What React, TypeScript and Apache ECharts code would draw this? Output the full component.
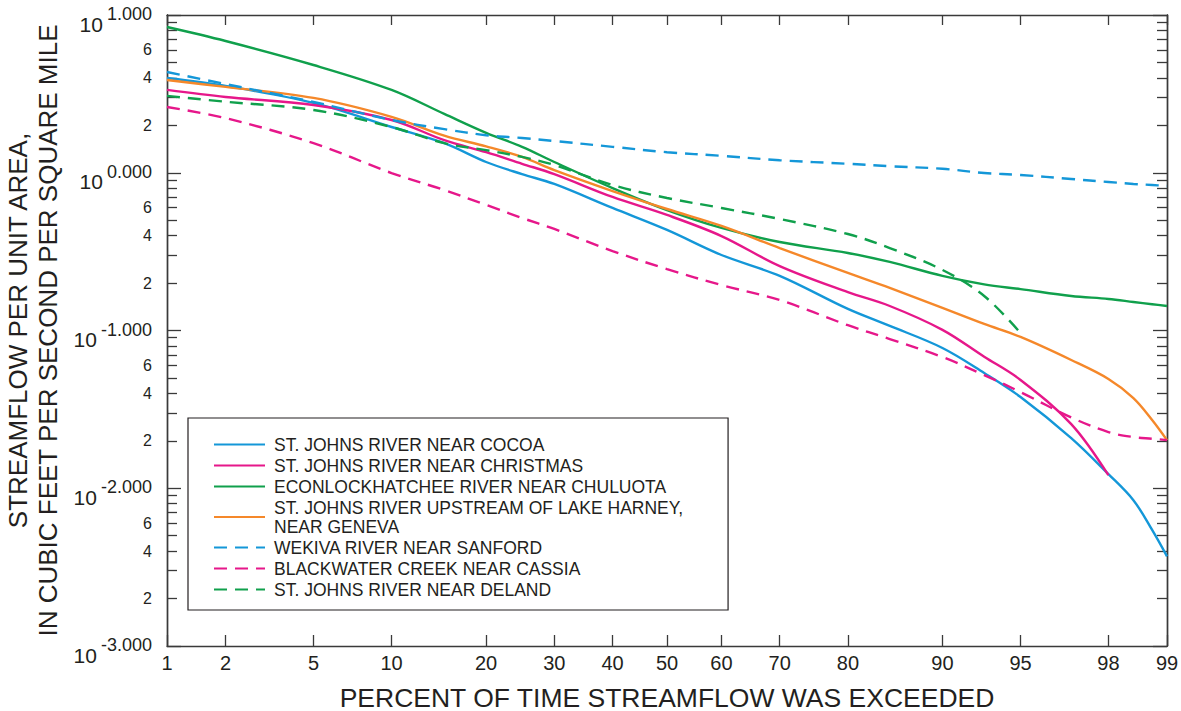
import { useEffect, useRef } from 'react';
import * as echarts from 'echarts';

// Percent of time the streamflow was exceeded (probability scale positions)
const EXCEEDANCE = [1, 2, 5, 10, 15, 20, 25, 30, 40, 50, 60, 70, 80, 85, 90, 93, 95, 97, 98, 98.5, 98.8, 99];

// Streamflow per unit area, cubic feet per second per square mile
const COCOA = [3.99, 3.55, 2.77, 1.95, 1.54, 1.17, 0.98, 0.849, 0.598, 0.434, 0.301, 0.222, 0.137, 0.107, 0.0775, 0.0538, 0.0379, 0.0208, 0.0123, 0.0084, 0.00544, 0.0037];
const CHRISTMAS = [3.35, 3.02, 2.69, 2.16, 1.61, 1.35, 1.14, 0.98, 0.702, 0.54, 0.397, 0.256, 0.175, 0.143, 0.101, 0.0682, 0.0486, 0.0255, 0.0121, null, null, null];
const CHULUOTA = [8.39, 6.84, 4.82, 3.35, 2.36, 1.79, 1.46, 1.17, 0.8, 0.58, 0.447, 0.364, 0.31, 0.272, 0.222, 0.196, 0.183, 0.1655, 0.1585, 0.1517, 0.1468, 0.143];
const GENEVA = [3.87, 3.5, 2.98, 2.26, 1.72, 1.47, 1.26, 1.04, 0.766, 0.589, 0.46, 0.333, 0.2315, 0.186, 0.139, 0.11, 0.091, 0.065, 0.0493, 0.0373, 0.0271, 0.0202];
const SANFORD = [4.35, 3.65, 2.81, 2.16, 1.89, 1.73, 1.66, 1.59, 1.46, 1.35, 1.28, 1.2, 1.14, 1.1, 1.06, 0.996, 0.968, 0.913, 0.874, 0.849, 0.837, 0.824];
const CASSIA = [2.61, 2.22, 1.54, 0.996, 0.777, 0.625, 0.517, 0.44, 0.319, 0.245, 0.194, 0.156, 0.108, 0.0883, 0.0679, 0.0522, 0.0407, 0.0281, 0.0227, 0.0211, 0.0206, 0.0202];
const DELAND = [3.07, 2.82, 2.5, 1.95, 1.54, 1.39, 1.26, 1.12, 0.836, 0.692, 0.598, 0.509, 0.409, 0.333, 0.242, 0.1655, 0.0964, null, null, null, null, null];

const SERIES_NAMES = [
  'ST. JOHNS RIVER NEAR COCOA',
  'ST. JOHNS RIVER NEAR CHRISTMAS',
  'ECONLOCKHATCHEE RIVER NEAR CHULUOTA',
  'ST. JOHNS RIVER UPSTREAM OF LAKE HARNEY,\nNEAR GENEVA',
  'WEKIVA RIVER NEAR SANFORD',
  'BLACKWATER CREEK NEAR CASSIA',
  'ST. JOHNS RIVER NEAR DELAND',
];

// Tick labels
const X_TICKS = [1, 2, 5, 10, 20, 30, 40, 50, 60, 70, 80, 90, 95, 98, 99];
const Y_DECADES = [-3, -2, -1, 0, 1];
const Y_LABELED_MANTISSAS = [2, 4, 6];

const FONT = '"Liberation Sans", Arial, Helvetica, sans-serif';
const INK = '#231f20';
const AXIS = '#3a3a3a';
const BLUE = '#1497d8';
const MAGENTA = '#e6178a';
const GREEN = '#10a04c';
const ORANGE = '#f5882a';
const DASH = [13, 8];

// Inverse of the standard normal CDF (Acklam's rational approximation)
function probit(p: number): number {
  const a = [-39.69683028665376, 220.9460984245205, -275.9285104469687, 138.357751867269, -30.66479806614716, 2.506628277459239];
  const b = [-54.47609879822406, 161.5858368580409, -155.6989798598866, 66.80131188771972, -13.28068155288572];
  const c = [-0.007784894002430293, -0.3223964580411365, -2.400758277161838, -2.549732539343734, 4.374664141464968, 2.938163982698783];
  const d = [0.007784695709041462, 0.3224671290700398, 2.445134137142996, 3.754408661907416];
  const pl = 0.02425;
  if (p < pl) {
    const q = Math.sqrt(-2 * Math.log(p));
    return (((((c[0] * q + c[1]) * q + c[2]) * q + c[3]) * q + c[4]) * q + c[5]) /
      ((((d[0] * q + d[1]) * q + d[2]) * q + d[3]) * q + 1);
  }
  if (p > 1 - pl) {
    const q = Math.sqrt(-2 * Math.log(1 - p));
    return -(((((c[0] * q + c[1]) * q + c[2]) * q + c[3]) * q + c[4]) * q + c[5]) /
      ((((d[0] * q + d[1]) * q + d[2]) * q + d[3]) * q + 1);
  }
  const q = p - 0.5;
  const r = q * q;
  return (((((a[0] * r + a[1]) * r + a[2]) * r + a[3]) * r + a[4]) * r + a[5]) * q /
    (((((b[0] * r + b[1]) * r + b[2]) * r + b[3]) * r + b[4]) * r + 1);
}

const X_MIN = probit(0.01);
const X_MAX = probit(0.99);
const X_TICK_POS = X_TICKS.map((p) => probit(p / 100));

const Y_MAJOR = Y_DECADES;
const Y_MINOR: number[] = [];
Y_DECADES.slice(0, -1).forEach((k) => {
  for (let m = 2; m <= 9; m++) Y_MINOR.push(k + Math.log10(m));
});
const Y_LABELS: number[] = [...Y_MAJOR];
Y_DECADES.slice(0, -1).forEach((k) => {
  Y_LABELED_MANTISSAS.forEach((m) => Y_LABELS.push(k + Math.log10(m)));
});

function toPoints(values: (number | null)[]) {
  return EXCEEDANCE.map((p, i) => {
    const v = values[i];
    return [probit(p / 100), v == null ? null : Math.log10(v)];
  }).filter((pt) => pt[1] !== null);
}

function xLabel(v: number): string {
  let best = 0;
  let dist = Infinity;
  X_TICK_POS.forEach((z, i) => {
    const dd = Math.abs(z - v);
    if (dd < dist) {
      dist = dd;
      best = i;
    }
  });
  return String(X_TICKS[best]);
}

function yLabel(v: number): string {
  const k = Math.round(v);
  if (Math.abs(v - k) < 1e-6) return `{b|10}{e|${k.toFixed(3)}}`;
  const m = Math.round(Math.pow(10, v - Math.floor(v)));
  return String(m);
}

const xAxisBase = {
  type: 'value' as const,
  min: X_MIN,
  max: X_MAX,
  splitLine: { show: false },
  axisLine: { show: true, onZero: false, lineStyle: { color: AXIS, width: 1.4 } },
};

const yAxisBase = {
  type: 'value' as const,
  min: -3,
  max: 1,
  splitLine: { show: false },
  axisLine: { show: true, onZero: false, lineStyle: { color: AXIS, width: 1.4 } },
};

export default function App() {
  const ref = useRef<HTMLDivElement>(null);

  useEffect(() => {
    document.body.style.margin = '0';
    if (!ref.current) return;
    const chart = echarts.init(ref.current, null, { renderer: 'svg' });

    const seriesDefs = [
      { values: COCOA, color: BLUE, dashed: false },
      { values: CHRISTMAS, color: MAGENTA, dashed: false },
      { values: CHULUOTA, color: GREEN, dashed: false },
      { values: GENEVA, color: ORANGE, dashed: false },
      { values: SANFORD, color: BLUE, dashed: true },
      { values: CASSIA, color: MAGENTA, dashed: true },
      { values: DELAND, color: GREEN, dashed: true },
    ];

    chart.setOption({
      animation: false,
      backgroundColor: '#ffffff',
      textStyle: { fontFamily: FONT, color: INK },
      grid: { left: 167, right: 14, top: 15, bottom: 65, containLabel: false, outerBoundsMode: 'none' },
      xAxis: [
        {
          ...xAxisBase,
          position: 'bottom',
          name: 'PERCENT OF TIME STREAMFLOW WAS EXCEEDED',
          nameLocation: 'middle',
          nameGap: 38,
          nameTextStyle: { fontSize: 26.5, color: INK, fontFamily: FONT },
          axisTick: { show: true, inside: true, length: 11, customValues: X_TICK_POS, lineStyle: { color: AXIS, width: 1.3 } },
          axisLabel: {
            show: true,
            customValues: X_TICK_POS,
            formatter: xLabel,
            fontSize: 20,
            color: INK,
            fontFamily: FONT,
            margin: 7,
          },
        },
        {
          ...xAxisBase,
          position: 'top',
          axisTick: { show: true, inside: true, length: 10, customValues: X_TICK_POS, lineStyle: { color: AXIS, width: 1.3 } },
          axisLabel: { show: false },
        },
      ],
      yAxis: [
        {
          ...yAxisBase,
          position: 'left',
          name: 'STREAMFLOW PER UNIT AREA,\nIN CUBIC FEET PER SECOND PER SQUARE MILE',
          nameLocation: 'middle',
          nameRotate: 90,
          nameGap: 98,
          nameTextStyle: { fontSize: 26, lineHeight: 30, color: INK, fontFamily: FONT },
          axisTick: { show: true, inside: true, length: 14, customValues: Y_MAJOR, lineStyle: { color: AXIS, width: 1.3 } },
          axisLabel: {
            show: true,
            customValues: Y_LABELS,
            formatter: yLabel,
            fontSize: 16,
            color: INK,
            fontFamily: FONT,
            margin: 15,
            rich: {
              b: { fontSize: 21, lineHeight: 21, padding: [18, 4, 0, 0], color: INK, fontFamily: FONT },
              e: { fontSize: 18, lineHeight: 18, padding: [0, 0, 2, 0], color: INK, fontFamily: FONT },
            },
          },
        },
        {
          ...yAxisBase,
          position: 'left',
          axisTick: { show: true, inside: true, length: 10, customValues: Y_MINOR, lineStyle: { color: AXIS, width: 1.3 } },
          axisLabel: { show: false },
        },
        {
          ...yAxisBase,
          position: 'right',
          axisTick: { show: true, inside: true, length: 14, customValues: Y_MAJOR, lineStyle: { color: AXIS, width: 1.3 } },
          axisLabel: { show: false },
        },
        {
          ...yAxisBase,
          position: 'right',
          axisTick: { show: true, inside: true, length: 10, customValues: Y_MINOR, lineStyle: { color: AXIS, width: 1.3 } },
          axisLabel: { show: false },
        },
      ],
      legend: {
        orient: 'vertical',
        left: 188,
        top: 418,
        itemWidth: 51,
        itemHeight: 14,
        itemGap: 2,
        padding: [17, 45, 11, 25],
        borderColor: INK,
        borderWidth: 1.2,
        backgroundColor: '#ffffff',
        data: SERIES_NAMES,
        itemStyle: { opacity: 0 },
        textStyle: { fontSize: 17.5, lineHeight: 19, color: INK, fontFamily: FONT, padding: [0, 0, 0, 4] },
      },
      series: seriesDefs.map((s, i) => ({
        name: SERIES_NAMES[i],
        type: 'line',
        xAxisIndex: 0,
        yAxisIndex: 0,
        data: toPoints(s.values),
        smooth: 0.35,
        symbol: 'none',
        showSymbol: false,
        color: s.color,
        lineStyle: { color: s.color, width: 2.4, type: s.dashed ? DASH : 'solid' },
        z: 3,
      })),
    });

    return () => chart.dispose();
  }, []);

  return <div ref={ref} style={{ width: 1181, height: 711 }} />;
}
